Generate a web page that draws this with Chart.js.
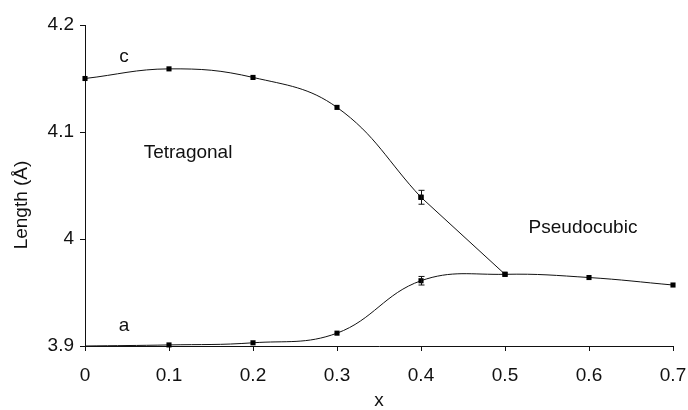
<!DOCTYPE html>
<html>
<head>
<meta charset="utf-8">
<script src="https://cdn.jsdelivr.net/npm/chart.js@4.4.1/dist/chart.umd.min.js"></script>
<style>
  html, body { margin: 0; padding: 0; background: #fff; }
  #wrap { width: 688px; height: 410px; position: relative; }
</style>
</head>
<body>
<div id="wrap"><canvas id="chart" width="688" height="410"></canvas></div>
<script>
// Lattice parameters vs. composition x
const xValues = [0, 0.1, 0.2, 0.3, 0.4, 0.5, 0.6, 0.7];
const cValues = [4.150, 4.159, 4.151, 4.123, 4.039, 3.967];      // x = 0 … 0.5
const aValues = [3.900, 3.901, 3.903, 3.912, 3.961, 3.967, 3.964, 3.957];
const cErrors = [0, 0, 0, 0, 0.0065, 0];
const aErrors = [0, 0, 0, 0, 0.004, 0, 0, 0];
const yTicks = [3.9, 4.0, 4.1, 4.2];
const yTickLabels = ['3.9', '4', '4.1', '4.2'];
const xTickLabels = ['0', '0.1', '0.2', '0.3', '0.4', '0.5', '0.6', '0.7'];

const INK = '#111';
const FONT = 'Liberation Sans, Arial, Helvetica, sans-serif';
const FONT_SIZE = 19;

const toPts = (xs, ys) => ys.map((y, i) => ({ x: xs[i], y }));

// c: smooth through the tetragonal range, straight into the merge point
const cSmooth = toPts(xValues, cValues).slice(0, 5);
const cStraight = toPts(xValues, cValues).slice(4, 6);
const aPts = toPts(xValues, aValues);

const errorBars = {
  id: 'errorBars',
  afterDatasetsDraw(chart) {
    const { ctx, scales: { x, y } } = chart;
    const sets = [[cValues, cErrors], [aValues, aErrors]];
    ctx.save();
    ctx.strokeStyle = INK;
    ctx.lineWidth = 1;
    for (const [vals, errs] of sets) {
      vals.forEach((v, i) => {
        const e = errs[i];
        if (!e) return;
        const px = Math.round(x.getPixelForValue(xValues[i])) + 0.5;
        const top = y.getPixelForValue(v + e);
        const bot = y.getPixelForValue(v - e);
        ctx.beginPath();
        ctx.moveTo(px, top); ctx.lineTo(px, bot);
        ctx.moveTo(px - 3, top); ctx.lineTo(px + 3, top);
        ctx.moveTo(px - 3, bot); ctx.lineTo(px + 3, bot);
        ctx.stroke();
      });
    }
    ctx.restore();
  }
};

const annotations = {
  id: 'annotations',
  afterDraw(chart) {
    const { ctx } = chart;
    ctx.save();
    ctx.fillStyle = INK;
    ctx.font = FONT_SIZE + 'px ' + FONT;
    ctx.textAlign = 'center';
    ctx.textBaseline = 'middle';
    ctx.fillText('c', 124, 57);
    ctx.fillText('a', 124, 326);
    ctx.fillText('Tetragonal', 188, 153);
    ctx.fillText('Pseudocubic', 583, 228);
    // axis titles
    ctx.fillText('x', (chart.chartArea.left + chart.chartArea.right) / 2, 401);
    ctx.translate(22, 205);
    ctx.rotate(-Math.PI / 2);
    ctx.fillText('Length (Å)', 0, 0);
    ctx.restore();
  }
};

const lineStyle = {
  borderColor: INK,
  borderWidth: 1,
  pointStyle: 'rect',
  pointBackgroundColor: '#000',
  pointBorderColor: '#000',
  pointBorderWidth: 0,
  pointRadius: 3.6,
  fill: false,
};

new Chart(document.getElementById('chart'), {
  type: 'line',
  data: {
    datasets: [
      { ...lineStyle, label: 'c', data: cSmooth, tension: 0.4 },
      { ...lineStyle, label: 'c', data: cStraight, tension: 0 },
      { ...lineStyle, label: 'a', data: aPts, tension: 0.4,
        pointRadius: aPts.map((p, i) => (i === 0 ? 0 : 3.6)) },
    ]
  },
  options: {
    responsive: false,
    animation: false,
    events: [],
    clip: false,
    layout: { autoPadding: false, padding: { top: 25, right: 15, left: 0, bottom: 0 } },
    plugins: { legend: { display: false }, tooltip: { enabled: false } },
    scales: {
      x: {
        type: 'linear',
        min: 0, max: 0.7,
        afterFit(s) { s.height = 64; s.paddingLeft = 0; s.paddingRight = 0; },
        afterBuildTicks(s) { s.ticks = xValues.map(v => ({ value: v })); },
        ticks: {
          color: INK, font: { family: FONT, size: FONT_SIZE }, padding: 13,
          maxRotation: 0, autoSkip: false,
          callback: (v, i) => xTickLabels[i],
        },
        grid: { display: true, drawOnChartArea: false, drawTicks: true, tickLength: 5, color: INK, tickWidth: 1 },
        border: { display: true, color: INK, width: 1 },
      },
      y: {
        type: 'linear',
        min: 3.9, max: 4.2,
        afterFit(s) { s.width = 85; s.paddingTop = 0; s.paddingBottom = 0; },
        afterBuildTicks(s) { s.ticks = yTicks.map(v => ({ value: v })); },
        ticks: {
          color: INK, font: { family: FONT, size: FONT_SIZE }, padding: 6,
          autoSkip: false,
          callback: (v, i) => yTickLabels[i],
        },
        grid: { display: true, drawOnChartArea: false, drawTicks: true, tickLength: 5, color: INK, tickWidth: 1 },
        border: { display: true, color: INK, width: 1 },
      }
    }
  },
  plugins: [errorBars, annotations]
});
</script>
</body>
</html>
